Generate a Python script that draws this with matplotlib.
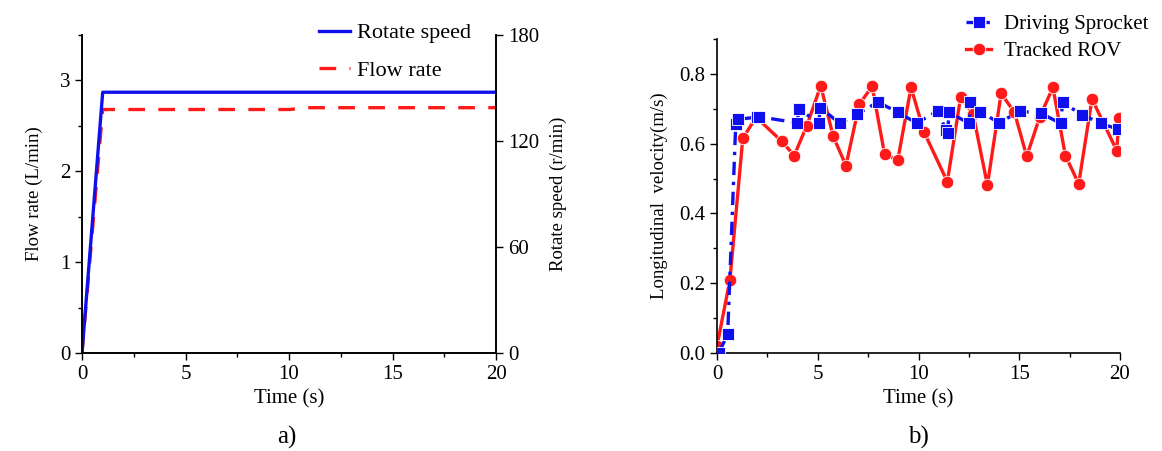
import matplotlib
matplotlib.use("Agg")
import matplotlib.pyplot as plt
from matplotlib.ticker import MultipleLocator

plt.rcParams['font.family'] = ['Liberation Serif', 'DejaVu Serif']
plt.rcParams['font.size'] = 15

# panel a
t_speed = [0, 1, 20]
rotate_speed = [0, 147.6, 147.6]          # r/min (right axis)
t_flow = [0, 1, 10, 11, 20]
flow_rate = [0, 2.68, 2.68, 2.70, 2.70]   # L/min (left axis)

# panel b
t_sprocket = [0.09, 0.53, 0.93, 1.03, 2.0, 2.09, 3.97, 4.08, 5.04, 5.13, 6.10, 6.95,
              7.99, 8.97, 9.91, 10.96, 11.35, 11.44, 11.52, 12.51, 12.57, 13.05, 13.99,
              15.04, 16.08, 17.06, 17.15, 18.11, 19.07, 19.91]
v_sprocket = [0.0, 0.054, 0.656, 0.67, 0.676, 0.677, 0.66, 0.70, 0.658, 0.703, 0.658, 0.685,
              0.719, 0.69, 0.659, 0.694, 0.64, 0.632, 0.69, 0.658, 0.718, 0.692, 0.66,
              0.693, 0.687, 0.658, 0.718, 0.683, 0.658, 0.641]
t_rov = [0.0, 0.64, 1.28, 1.94, 3.21, 3.83, 4.46, 5.15, 5.76, 6.40, 7.06, 7.70, 8.32, 8.97,
         9.63, 10.27, 11.43, 12.09, 12.71, 13.42, 14.10, 14.76, 15.37, 16.02, 16.67, 17.29,
         17.95, 18.61, 19.84, 19.95]
v_rov = [0.02, 0.209, 0.615, 0.676, 0.607, 0.566, 0.652, 0.766, 0.622, 0.537, 0.713, 0.764,
         0.569, 0.553, 0.761, 0.634, 0.491, 0.733, 0.685, 0.481, 0.744, 0.69, 0.564, 0.677,
         0.761, 0.566, 0.485, 0.728, 0.58, 0.673]

W, H = 1162, 451
fig = plt.figure(figsize=(W / 100, H / 100), dpi=100)

def box(l, r, t, b):
    return [l / W, 1 - b / H, (r - l) / W, (b - t) / H]

# ---- a) ----
ax = fig.add_axes(box(82, 496, 35, 353))
ax2 = ax.twinx()
ln_f, = ax.plot(t_flow, flow_rate, color='#ff1a1a', lw=2.4, ls=(0, (5, 4)), label='Flow rate')
ln_s, = ax2.plot(t_speed, rotate_speed, color='#1010ee', lw=2.4, label='Rotate speed')
ax.set_xlim(0, 20)
ax.set_ylim(0, 3.5)
ax2.set_ylim(0, 180)
ax.set_yticks([0, 1, 2, 3])
ax2.set_yticks([0, 60, 120, 180])
ax.xaxis.set_minor_locator(MultipleLocator(2.5))
ax.yaxis.set_minor_locator(MultipleLocator(0.5))
ax.spines['top'].set_visible(False)
ax2.spines['top'].set_visible(False)
ax.set_xlabel('Time (s)', labelpad=4)
ax.set_ylabel('Flow rate (L/min)', labelpad=12, fontsize=13.5)
ax2.set_ylabel('Rotate speed (r/min)', labelpad=8, fontsize=13.5)
ax.legend([ln_s, ln_f], ['Rotate speed', 'Flow rate'], loc='upper left',
          bbox_to_anchor=(310 / W, 1 - 14 / H), bbox_transform=fig.transFigure,
          frameon=False, handlelength=1.4, handletextpad=0.3, labelspacing=0.75,
          borderaxespad=0, fontsize=16)
fig.text(287 / W, 1 - 437 / H, 'a)', ha='center', va='center', fontsize=18)

# ---- b) ----
bx = fig.add_axes(box(717, 1120, 39, 353))
bx.plot(t_sprocket, v_sprocket, color='#1010ee', lw=2.4, ls=(0, (4, 2, 1, 2)),
        marker='s', ms=8, mec='white', mew=0.6, label='Driving Sprocket', zorder=3)
bx.plot(t_rov, v_rov, color='#ff1a1a', lw=2.4, marker='o', ms=9, mec='white', mew=0.6,
        label='Tracked ROV', zorder=2)
bx.set_xlim(0, 20)
bx.set_ylim(0, 0.9)
bx.set_yticks([0.0, 0.2, 0.4, 0.6, 0.8])
bx.set_yticklabels(['0.0', '0.2', '0.4', '0.6', '0.8'])
bx.xaxis.set_minor_locator(MultipleLocator(2.5))
bx.yaxis.set_minor_locator(MultipleLocator(0.1))
bx.spines['top'].set_visible(False)
bx.spines['right'].set_visible(False)
bx.set_xlabel('Time (s)', labelpad=4)
bx.set_ylabel('Longitudinal  velocity(m/s)', labelpad=8, fontsize=13.5)
bx.legend(loc='upper left', bbox_to_anchor=(958 / W, 1 - 6 / H), bbox_transform=fig.transFigure,
          frameon=False, handlelength=1.2, handletextpad=0.6, labelspacing=0.35,
          borderaxespad=0, fontsize=15)
fig.text(918 / W, 1 - 437 / H, 'b)', ha='center', va='center', fontsize=18)

for a in (ax, ax2, bx):
    a.tick_params(which='major', direction='out', length=5, width=1)
    a.tick_params(which='minor', direction='out', length=3, width=1)
    for s in a.spines.values():
        s.set_linewidth(1.2)

fig.savefig('out.png', dpi=100)
